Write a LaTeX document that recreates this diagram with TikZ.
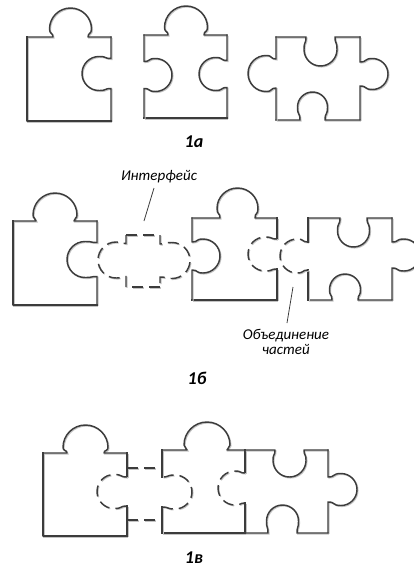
\documentclass[tikz,border=0pt]{standalone}
\usepackage{fontspec}
\setmainfont{Carlito}
\definecolor{edgegray}{HTML}{3C3C3C}
\definecolor{shadegray}{HTML}{C4C4C4}

% One jigsaw knob on a local edge running along +x; #1 centre, #2 half neck,
% #3 head radius, #4 depth, #5 = 1 for a tab, -1 for a socket.
\newcommand\pzknob[5]{({#1-#2},0)
  .. controls ({#1-#2},{-(#5)*0.6*(#4-#3)}) and ({#1-#3},{-(#5)*0.3*(#4-#3)}) .. ({#1-#3},{-(#5)*(#4-#3)})
  .. controls ({#1-#3},{-(#5)*(#4-0.4477*#3)}) and ({#1-0.5523*#3},{-(#5)*#4}) .. (#1,{-(#5)*#4})
  .. controls ({#1+0.5523*#3},{-(#5)*#4}) and ({#1+#3},{-(#5)*(#4-0.4477*#3)}) .. ({#1+#3},{-(#5)*(#4-#3)})
  .. controls ({#1+#3},{-(#5)*0.3*(#4-#3)}) and ({#1+#2},{-(#5)*0.6*(#4-#3)}) .. ({#1+#2},0)}
% Edge from (#1,#2) turned by #3, length #4, with a knob; solid
\newcommand\pzside[9]{\begin{scope}[shift={(#1,#2)},rotate=#3]
  \draw[pz] (0,0) -- \pzknob{#5}{#6}{#7}{#8}{#9} -- (#4,0);\end{scope}}
% the same edge, with only the knob dashed
\newcommand\pzsided[9]{\begin{scope}[shift={(#1,#2)},rotate=#3]
  \draw[pz] (0,0) -- ({#5-#6},0);
  \draw[pzd] \pzknob{#5}{#6}{#7}{#8}{#9};
  \draw[pz] ({#5+#6},0) -- (#4,0);\end{scope}}
% the same edge, dashed all along
\newcommand\pzdside[9]{\begin{scope}[shift={(#1,#2)},rotate=#3]
  \draw[pzd] (0,0) -- \pzknob{#5}{#6}{#7}{#8}{#9} -- (#4,0);\end{scope}}

\begin{document}
\begin{tikzpicture}[x=1pt,y=-1pt,
  pz/.style={draw=edgegray,line width=1.45pt,line cap=rect,line join=round,
    preaction={draw=shadegray,line width=1.3pt,transform canvas={shift={(0.9pt,-0.9pt)}}}},
  pzd/.style={draw=edgegray,line width=1.45pt,line cap=butt,line join=round,dash pattern=on 11pt off 6pt,
    preaction={draw=shadegray,line width=1.3pt,dash pattern=on 11pt off 6pt,transform canvas={shift={(0.9pt,-0.9pt)}}}},
  caption/.style={font=\fontsize{18}{20}\selectfont\bfseries\itshape,text=black,inner sep=0pt},
  note/.style={font=\fontsize{15}{17}\selectfont\itshape,text=black,inner sep=0pt,align=center},
  pointer/.style={draw=edgegray,line width=0.8pt}]
\fill[white] (0,0) rectangle (414,570);
\useasboundingbox (0,0) rectangle (414,570);

% ---- 1a: three separate pieces
\pzside{27}{37}{0}{84}{43.5}{17.5}{21}{29}{1}
\pzside{111}{37}{-90}{84}{36.5}{15}{17}{29}{-1}
\draw[pz] (111,121) -- (27,121) -- (27,37);

\pzside{144}{35}{0}{83}{42}{18}{21.5}{29}{1}
\pzside{227}{35}{-90}{83}{39}{13.5}{16.5}{28}{-1}
\draw[pz] (227,118) -- (144,118);
\pzside{144}{118}{90}{83}{43}{13.5}{16.5}{28}{-1}

\pzside{276}{37}{0}{84}{44.5}{14.5}{16.5}{29}{-1}
\pzside{360}{37}{-90}{83}{37}{12}{15.5}{28}{1}
\pzside{360}{120}{180}{84}{47.5}{12.5}{15}{28}{-1}
\pzside{276}{120}{90}{83}{46.5}{14.5}{18}{28}{1}

\node[caption] (capA) at (194,142) {1а};

% ---- 1b: pieces with an interface between them
\pzside{13}{221}{0}{84}{42}{19}{22}{28}{1}
\pzside{97}{221}{-90}{84}{38.5}{17}{18}{30}{-1}
\draw[pz] (97,305) -- (13,305) -- (13,221);

% interface
\draw[pzd] (126,235) -- (160,235);
\pzdside{160}{235}{-90}{52}{25.5}{16.5}{18}{30}{1}
\draw[pzd] (160,287) -- (126,287);
\pzdside{126}{287}{90}{52}{27}{16.5}{18}{28}{1}

\pzside{192}{218}{0}{85}{45.5}{17.5}{20.5}{30}{1}
\pzsided{277}{218}{-90}{82}{36}{15}{17}{29}{-1}
\draw[pz] (277,300) -- (192,300);
\pzside{192}{300}{90}{82}{44}{14}{17}{28}{-1}

\pzside{308}{218}{0}{84}{45.5}{13.5}{16}{29}{-1}
\pzside{392}{218}{-90}{82}{37}{13}{16}{28}{1}
\pzside{392}{300}{180}{84}{47}{13}{15.5}{26}{-1}
\pzsided{308}{300}{90}{82}{44}{14}{17}{28}{1}

\node[note] (ifc) at (159,177) {Интерфейс};
\coordinate (ifcTop) at (154,188);
\coordinate (ifcEnd) at (144,221);
\draw[pointer] (ifcTop) -- (ifcEnd);

\node[note] (join) at (286,342) {Объединение\\[-2pt]частей};
\coordinate (joinTop) at (293,287);
\coordinate (joinEnd) at (287,323);
\draw[pointer] (joinTop) -- (joinEnd);

\node[caption] (capB) at (197,378) {1б};

% ---- 1v: pieces joined through the interface
\pzside{43}{453}{0}{84}{42.5}{18.5}{22.5}{28}{1}
\pzsided{127}{453}{-90}{83}{38.5}{14.5}{17}{30}{-1}
\draw[pz] (127,536) -- (43,536) -- (43,453);
\draw[pzd] (127,468) -- (162,468);
\draw[pzd] (127,520) -- (162,520);

\pzside{162}{450}{0}{83}{45}{20}{23}{28}{1}
\pzsided{245}{450}{-90}{83}{38}{15}{17}{27}{-1}
\draw[pz] (245,533) -- (162,533);
\pzsided{162}{533}{90}{83}{41}{15}{17}{30}{-1}

\pzside{245}{450}{0}{83}{44.5}{14.5}{16.5}{27}{-1}
\pzside{328}{450}{-90}{83}{39.5}{12.5}{16}{29}{1}
\pzside{328}{533}{180}{83}{45.5}{14.5}{16}{28}{-1}

\node[caption] (capC) at (194,558) {1в};
\end{tikzpicture}
\end{document}
